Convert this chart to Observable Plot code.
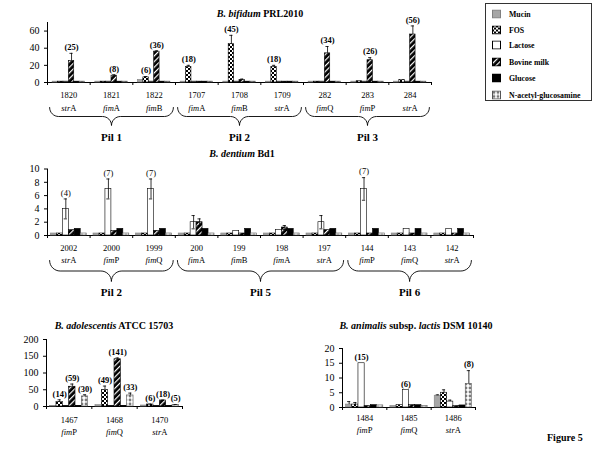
<!DOCTYPE html>
<html><head><meta charset="utf-8">
<script src="https://cdn.jsdelivr.net/npm/d3@7"></script>
<script src="https://cdn.jsdelivr.net/npm/@observablehq/plot@0.6"></script>
<style>
body{margin:0;background:#fff;font-family:'Liberation Serif','DejaVu Serif',serif;color:#000;}
#fig{position:relative;width:600px;height:450px;overflow:hidden;background:#fff;}
.panel{position:absolute;}
.title{position:absolute;font-weight:bold;font-size:10px;white-space:nowrap;transform:translate(-50%,-50%);}
#legend{position:absolute;left:485px;top:3px;width:107px;height:98px;border:1px solid #333;box-sizing:border-box;}
.li{position:absolute;left:6px;display:flex;align-items:center;font-weight:bold;font-size:7.8px;white-space:nowrap;transform:translateY(-50%);}
.li svg{margin-right:8px;}
#figlabel{position:absolute;left:547px;top:437px;transform:translateY(-50%);font-weight:bold;font-size:10px;}
</style></head>
<body>
<svg width="0" height="0" style="position:absolute">
<defs>
<pattern id="pFOS" patternUnits="userSpaceOnUse" width="4" height="4">
<rect width="4" height="4" fill="#fff"/><rect width="2" height="2" fill="#000"/><rect x="2" y="2" width="2" height="2" fill="#000"/>
</pattern>
<pattern id="pMilk" patternUnits="userSpaceOnUse" width="4" height="4" patternTransform="rotate(45)">
<rect width="4" height="4" fill="#000"/><rect width="1.2" height="4" fill="#fff"/>
</pattern>
<pattern id="pNAG" patternUnits="userSpaceOnUse" width="4" height="4">
<rect width="4" height="4" fill="#fff"/><circle cx="2" cy="2" r="1.4" fill="#7a7a7a"/>
</pattern>
</defs>
</svg>
<div id="fig"></div>
<script>
// ---------- data ----------
const series = ["Mucin", "FOS", "Lactose", "Bovine milk", "Glucose", "N-acetyl-glucosamine"];

// B. bifidum PRL2010
const bifidumGroups = ["1820", "1821", "1822", "1707", "1708", "1709", "282", "283", "284"];
const bifidumGenes = ["strA", "fimA", "fimB", "fimA", "fimB", "strA", "fimQ", "fimP", "strA"];
const bifidumValues = [
  [1, 1, 1, 25, 1, 1],
  [1, 1, 1, 8, 1, 1],
  [3, 6, 1, 36, 1, 1],
  [1, 18, 1, 1, 1, 1],
  [1, 45, 1, 3, 1, 1],
  [1, 18, 1, 1, 1, 1],
  [1, 1, 1, 34, 1, 1],
  [1, 1.5, 1, 26, 1, 1],
  [1, 3, 1, 56, 1, 1]
];
const bifidumErrors = [
  [0, 0, 0, 9, 0, 0],
  [0, 0, 0, 1, 0, 0],
  [0, 1, 0, 1, 0, 0],
  [0, 2, 0, 0, 0, 0],
  [0, 10, 0, 1, 0, 0],
  [0, 2, 0, 0, 0, 0],
  [0, 0, 0, 8, 0, 0],
  [0, 0, 0, 3, 0, 0],
  [0, 0, 0, 10, 0, 0]
];
const bifidumLabeled = [[3], [3], [1, 3], [1], [1], [1], [3], [3], [3]];
const bifidumPils = ["Pil 1", "Pil 2", "Pil 3"];
const bifidumPilSizes = [3, 3, 3];
const bifidumTicks = [0, 20, 40, 60];

// B. dentium Bd1
const dentiumGroups = ["2002", "2000", "1999", "200", "199", "198", "197", "144", "143", "142"];
const dentiumGenes = ["strA", "fimP", "fimQ", "fimA", "fimB", "fimA", "strA", "fimP", "fimQ", "strA"];
const dentiumValues = [
  [0.3, 0.3, 4, 0.8, 1, 0.3],
  [0.3, 0.3, 7, 0.7, 1, 0.3],
  [0.3, 0.3, 7, 0.7, 1, 0.3],
  [0.3, 0.3, 2, 2, 1, 0.3],
  [0.3, 0.3, 0.7, 0.3, 1, 0.3],
  [0.3, 0.3, 0.8, 1.2, 1, 0.3],
  [0.3, 0.3, 2, 0.8, 1, 0.3],
  [0.3, 0.3, 7, 0.3, 1, 0.3],
  [0.3, 0.3, 1, 0.3, 1, 0.3],
  [0.3, 0.3, 1, 0.3, 1, 0.3]
];
const dentiumErrors = [
  [0, 0, 1.5, 0, 0, 0],
  [0, 0, 1.5, 0, 0, 0],
  [0, 0, 1.5, 0, 0, 0],
  [0, 0, 1, 0.5, 0, 0],
  [0, 0, 0, 0, 0, 0],
  [0, 0, 0, 0.3, 0, 0],
  [0, 0, 1, 0, 0, 0],
  [0, 0, 1.7, 0, 0, 0],
  [0, 0, 0, 0, 0, 0],
  [0, 0, 0, 0, 0, 0]
];
const dentiumLabeled = [[2], [2], [2], [], [], [], [], [2], [], []];
const dentiumPils = ["Pil 2", "Pil 5", "Pil 6"];
const dentiumPilSizes = [3, 4, 3];
const dentiumTicks = [0, 2, 4, 6, 8, 10];

// B. adolescentis ATCC 15703
const adolGroups = ["1467", "1468", "1470"];
const adolGenes = ["fimP", "fimQ", "strA"];
const adolValues = [
  [2, 14, 2, 59, 2, 30],
  [4, 49, 2, 141, 2, 33],
  [3, 6, 2, 18, 2, 5]
];
const adolErrors = [
  [0, 6, 0, 8, 0, 5],
  [0, 12, 0, 4, 0, 7],
  [0, 1, 0, 1, 0, 1]
];
const adolLabeled = [[1, 3, 5], [1, 3, 5], [1, 3, 5]];
const adolTicks = [0, 50, 100, 150, 200];

// B. animalis subsp. lactis DSM 10140
const animGroups = ["1484", "1485", "1486"];
const animGenes = ["fimP", "fimQ", "strA"];
const animValues = [
  [1, 1, 15, 0.5, 0.8, 0.7],
  [0.5, 0.8, 6, 0.8, 0.8, 0.5],
  [4, 5, 2, 0.5, 0.7, 8]
];
const animErrors = [
  [1, 0.7, 0, 0, 0, 0],
  [0, 0, 0, 0, 0, 0],
  [0.3, 1, 0.5, 0, 0, 4.5]
];
const animLabeled = [[2], [2], [5]];
const animTicks = [0, 5, 10, 15, 20];

// ---------- styles ----------
const fills = ["#a6a6a6", "url(#pFOS)", "#ffffff", "url(#pMilk)", "#000000", "url(#pNAG)"];
const strokes = ["#808080", "#000", "#000", "#000", "#000", "#555"];
const FONT = "'Liberation Serif', 'DejaVu Serif', serif";

const fig = document.getElementById("fig");

function bracePoints(name, a, b, topPx, r, pxX, pxY) {
  const pts = [], m = (a + b) / 2, rx = r / pxX, Y = p => -p / pxY, K = 8;
  for (let k = 0; k <= K; k++) { const t = k / K * Math.PI / 2; pts.push({pil: name, x: a + rx - rx * Math.cos(t), y: Y(topPx + r * Math.sin(t))}); }
  for (let k = 0; k <= K; k++) { const t = k / K * Math.PI / 2; pts.push({pil: name, x: m - rx + rx * Math.sin(t), y: Y(topPx + 2 * r - r * Math.cos(t))}); }
  for (let k = 0; k <= K; k++) { const t = k / K * Math.PI / 2; pts.push({pil: name, x: m + rx - rx * Math.cos(t), y: Y(topPx + 2 * r - r * Math.sin(t))}); }
  for (let k = 0; k <= K; k++) { const t = k / K * Math.PI / 2; pts.push({pil: name, x: b - rx + rx * Math.sin(t), y: Y(topPx + r * Math.cos(t))}); }
  return pts;
}

function makePanel(cfg) {
  const n = cfg.groups.length;
  const plotW = cfg.width - cfg.ml - cfg.mr;
  const plotH = cfg.height - cfg.mt - cfg.mb;
  const pxX = plotW / n, pxY = plotH / cfg.yMax;
  const bw = cfg.barFrac / series.length;
  const off = (1 - cfg.barFrac) / 2;
  const rows = [];
  cfg.values.forEach((vals, g) => vals.forEach((v, s) => {
    rows.push({g, s, x1: g + off + s * bw, x2: g + off + (s + 1) * bw, xc: g + off + (s + 0.5) * bw,
      v, e: cfg.errors[g][s], lab: cfg.labeled[g].includes(s)});
  }));
  const errRows = rows.filter(d => d.e > 0);
  const labRows = rows.filter(d => d.lab);
  const cw = 1.6 / pxX;
  const marks = [];
  series.forEach((name, s) => {
    marks.push(Plot.rectY(rows.filter(d => d.s === s), {x1: "x1", x2: "x2", y1: () => 0, y2: "v",
      fill: fills[s], stroke: strokes[s], strokeWidth: 0.6}));
  });
  marks.push(Plot.ruleX(errRows, {x: "xc", y1: d => cfg.both ? d.v - d.e : d.v, y2: d => d.v + d.e, stroke: "#000", strokeWidth: 0.8}));
  marks.push(Plot.ruleY(errRows, {y: d => d.v + d.e, x1: d => d.xc - cw, x2: d => d.xc + cw, stroke: "#000", strokeWidth: 0.8}));
  if (cfg.both) marks.push(Plot.ruleY(errRows, {y: d => d.v - d.e, x1: d => d.xc - cw, x2: d => d.xc + cw, stroke: "#000", strokeWidth: 0.8}));
  marks.push(Plot.text(labRows, {x: "xc", y: d => d.v + d.e, text: d => `(${Math.round(d.v)})`, dy: -6,
    fontWeight: cfg.labelWeight, fontSize: 8.5}));
  marks.push(Plot.text(cfg.groups, {x: (d, i) => i + 0.5, y: () => 0, text: d => d, dy: cfg.numDy, fontSize: 8.5}));
  marks.push(Plot.text(cfg.genes, {x: (d, i) => i + 0.5, y: () => 0, text: d => d, dy: cfg.geneDy, fontSize: 8.5}));
  if (cfg.pils) {
    let start = 0; const pts = [], mids = [];
    cfg.pils.forEach((p, k) => {
      const end = start + cfg.pilSizes[k];
      pts.push(...bracePoints(p, start + 0.05, end - 0.05, cfg.braceTop, cfg.braceR, pxX, pxY));
      mids.push({p, x: (start + end) / 2});
      start = end;
    });
    marks.push(Plot.line(pts, {x: "x", y: "y", z: "pil", stroke: "#000", strokeWidth: 0.9}));
    marks.push(Plot.text(mids, {x: "x", y: () => 0, text: "p", dy: cfg.pilDy, fontWeight: "bold", fontSize: 11}));
  }
  const chart = Plot.plot({
    width: cfg.width, height: cfg.height,
    marginLeft: cfg.ml, marginRight: cfg.mr, marginTop: cfg.mt, marginBottom: cfg.mb,
    style: {fontFamily: FONT, fontSize: "10px", background: "transparent", overflow: "visible", color: "#000"},
    x: {domain: [0, n], ticks: d3.range(0, n + 1), tickFormat: () => "", tickSize: 3, line: true, label: null},
    y: {domain: [0, cfg.yMax], ticks: cfg.ticks, tickSize: 3, tickPadding: 5, line: true, label: null},
    marks
  });
  chart.classList.add("panel");
  chart.style.left = cfg.left + "px";
  chart.style.top = cfg.top + "px";
  chart.style.position = "absolute";
  chart.style.fontFamily = FONT;
  fig.appendChild(chart);
  chart.querySelectorAll("text").forEach(t => {
    const m = /^(str|fim)([A-Z])$/.exec(t.textContent);
    if (m) {
      t.textContent = "";
      const a = document.createElementNS("http://www.w3.org/2000/svg", "tspan");
      a.setAttribute("font-style", "italic"); a.textContent = m[1];
      const b = document.createElementNS("http://www.w3.org/2000/svg", "tspan");
      b.textContent = m[2];
      t.appendChild(a); t.appendChild(b);
    }
  });
}

makePanel({groups: bifidumGroups, genes: bifidumGenes, values: bifidumValues, errors: bifidumErrors, labeled: bifidumLabeled,
  pils: bifidumPils, pilSizes: bifidumPilSizes, ticks: bifidumTicks, yMax: 70, labelWeight: "bold",
  left: 0, top: 0, width: 445, height: 150, ml: 47, mr: 14, mt: 22, mb: 68, barFrac: 0.76, both: false,
  numDy: 13, geneDy: 26, braceTop: 25, braceR: 9, pilDy: 55});

makePanel({groups: dentiumGroups, genes: dentiumGenes, values: dentiumValues, errors: dentiumErrors, labeled: dentiumLabeled,
  pils: dentiumPils, pilSizes: dentiumPilSizes, ticks: dentiumTicks, yMax: 10, labelWeight: "normal",
  left: 0, top: 150, width: 490, height: 150, ml: 47, mr: 17, mt: 18.5, mb: 65, barFrac: 0.84, both: true,
  numDy: 13, geneDy: 25, braceTop: 25, braceR: 10.5, pilDy: 57});

makePanel({groups: adolGroups, genes: adolGenes, values: adolValues, errors: adolErrors, labeled: adolLabeled,
  ticks: adolTicks, yMax: 200, labelWeight: "bold",
  left: 0, top: 310, width: 200, height: 135, ml: 46, mr: 18, mt: 29, mb: 39, barFrac: 0.84, both: false,
  numDy: 14, geneDy: 26});

makePanel({groups: animGroups, genes: animGenes, values: animValues, errors: animErrors, labeled: animLabeled,
  ticks: animTicks, yMax: 20, labelWeight: "bold",
  left: 300, top: 310, width: 200, height: 135, ml: 42, mr: 25, mt: 38, mb: 38, barFrac: 0.84, both: false,
  numDy: 11, geneDy: 23});

const titles = [
  {html: "<i>B. bifidum</i> PRL2010", x: 260, y: 13},
  {html: "<i>B. dentium</i> Bd1", x: 242, y: 153},
  {html: "<i>B. adolescentis</i> ATCC 15703", x: 114, y: 325},
  {html: "<i>B. animalis</i> subsp. <i>lactis</i> DSM 10140", x: 416, y: 325}
];
titles.forEach(t => {
  const d = document.createElement("div");
  d.className = "title"; d.innerHTML = t.html;
  d.style.left = t.x + "px"; d.style.top = t.y + "px";
  fig.appendChild(d);
});

const legend = document.createElement("div");
legend.id = "legend";
const legendY = [10, 26, 41, 58, 74, 91];
series.forEach((name, s) => {
  const it = document.createElement("div");
  it.className = "li"; it.style.top = legendY[s] + "px";
  it.innerHTML = `<svg width="9" height="9"><rect x="0.5" y="0.5" width="8" height="8" fill="${fills[s]}" stroke="${strokes[s]}" stroke-width="1"/></svg><span>${name}</span>`;
  legend.appendChild(it);
});
fig.appendChild(legend);

const fl = document.createElement("div");
fl.id = "figlabel"; fl.textContent = "Figure 5";
fig.appendChild(fl);
</script>
</body></html>
